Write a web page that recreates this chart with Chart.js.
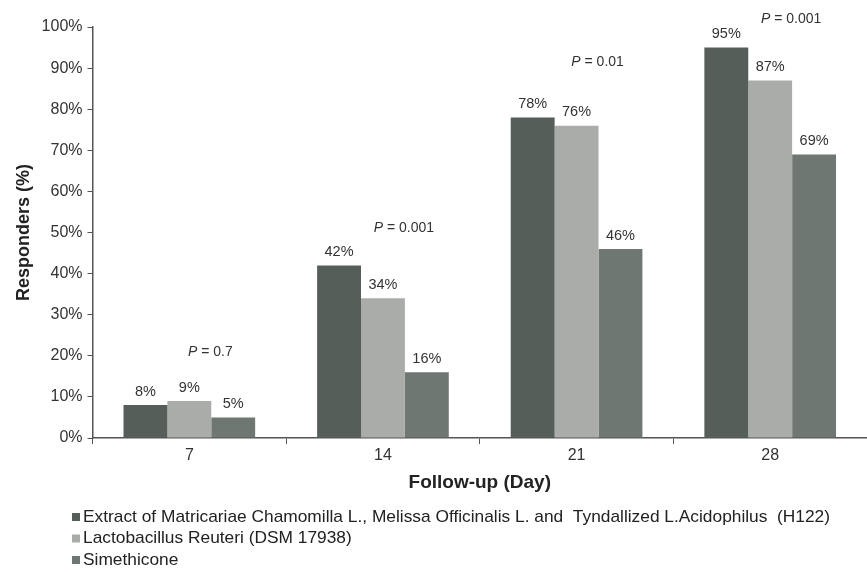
<!DOCTYPE html>
<html>
<head>
<meta charset="utf-8">
<script src="https://cdn.jsdelivr.net/npm/chart.js@4/dist/chart.umd.min.js"></script>
<style>
  html, body { margin: 0; padding: 0; background: #fff; }
  #wrap { width: 867px; height: 576px; position: relative; }
</style>
</head>
<body>
<div id="wrap"><canvas id="myChart"></canvas></div>
<script>
const days = ['7', '14', '21', '28']
const seriesNames = [
  'Extract of Matricariae Chamomilla L., Melissa Officinalis L. and  Tyndallized L.Acidophilus  (H122)',
  'Lactobacillus Reuteri (DSM 17938)',
  'Simethicone',
]
const h122 = [8, 42, 78, 95]
const reuteri = [9, 34, 76, 87]
const simethicone = [5, 16, 46, 69]
const yTicks = [0, 10, 20, 30, 40, 50, 60, 70, 80, 90, 100]
// p-value per follow-up day and the level (in %) where its label sits
const pValues = ['0.7', '0.001', '0.01', '0.001']
const pLevels = [21, 51, 91.5, 102]

const colors = ['#565e5a', '#a9aca9', '#6f7773']
const font = 'Liberation Sans, Arial, sans-serif'

// value labels on top of each bar
const barLabels = {
  id: 'barLabels',
  afterDatasetsDraw(chart) {
    const { ctx } = chart
    ctx.save()
    ctx.font = '14.5px ' + font
    ctx.fillStyle = '#333'
    ctx.textAlign = 'center'
    ctx.textBaseline = 'bottom'
    chart.data.datasets.forEach((ds, i) => {
      chart.getDatasetMeta(i).data.forEach((bar, j) => {
        ctx.fillText(ds.data[j] + '%', bar.x, bar.y - 6)
      })
    })
    ctx.restore()
  },
}

// "P = ..." annotations above each group
const pLabels = {
  id: 'pLabels',
  afterDraw(chart) {
    const { ctx } = chart
    const xs = chart.scales.x
    const ys = chart.scales.y
    ctx.save()
    ctx.fillStyle = '#333'
    ctx.textBaseline = 'middle'
    pValues.forEach((p, i) => {
      const cx = xs.getPixelForValue(i) + 21
      const cy = ys.getPixelForValue(pLevels[i])
      ctx.font = 'italic 14px ' + font
      const wP = ctx.measureText('P').width
      ctx.font = '14px ' + font
      const rest = ' = ' + p
      const wR = ctx.measureText(rest).width
      const x0 = cx - (wP + wR) / 2
      ctx.font = 'italic 14px ' + font
      ctx.textAlign = 'left'
      ctx.fillText('P', x0, cy)
      ctx.font = '14px ' + font
      ctx.fillText(rest, x0 + wP, cy)
    })
    ctx.restore()
  },
}

// stacked legend below the axis title, text condensed to the original width
const stackLegend = {
  id: 'stackLegend',
  afterDraw(chart) {
    const { ctx } = chart
    ctx.save()
    ctx.font = '17px ' + font
    ctx.textBaseline = 'middle'
    ctx.textAlign = 'left'
    const sx = 747 / ctx.measureText(chart.data.datasets[0].label).width
    chart.data.datasets.forEach((ds, i) => {
      const y = 517 + i * 21.5
      ctx.fillStyle = ds.backgroundColor
      ctx.fillRect(72, y - 4, 8, 8)
      ctx.fillStyle = '#222'
      ctx.save()
      ctx.translate(83, y)
      ctx.scale(sx, 1)
      ctx.fillText(ds.label, 0, 0)
      ctx.restore()
    })
    ctx.restore()
  },
}

const ctx = document.getElementById('myChart').getContext('2d')
const data = {
  labels: days,
  datasets: [
    { label: seriesNames[0], data: h122, backgroundColor: colors[0] },
    { label: seriesNames[1], data: reuteri, backgroundColor: colors[1] },
    { label: seriesNames[2], data: simethicone, backgroundColor: colors[2] },
  ],
}
const myChart = new Chart(ctx, {
  type: 'bar',
  data,
  plugins: [barLabels, pLabels, stackLegend],
  options: {
    responsive: true,
    maintainAspectRatio: false,
    animation: false,
    layout: { padding: { top: 27, right: 0, left: 13, bottom: 78 } },
    datasets: { bar: { categoryPercentage: 0.68, barPercentage: 1 } },
    plugins: {
      legend: { display: false },
      tooltip: { enabled: false },
    },
    scales: {
      x: {
        grid: { drawOnChartArea: false, tickLength: 6, color: '#555' },
        border: { color: '#555', width: 1.5 },
        ticks: { color: '#333', font: { family: font, size: 16 }, padding: 2 },
        title: {
          display: true,
          text: 'Follow-up (Day)',
          color: '#222',
          font: { family: font, size: 19, weight: 'bold' },
          padding: { top: 4 },
        },
      },
      y: {
        min: 0,
        max: 100,
        afterBuildTicks: (axis) => { axis.ticks = yTicks.map((v) => ({ value: v })) },
        grid: { drawOnChartArea: false, tickLength: 5, color: '#555' },
        border: { color: '#555', width: 1.5 },
        ticks: {
          color: '#333',
          font: { family: font, size: 16 },
          padding: 5,
          callback: (v) => v + '%',
        },
        title: {
          display: true,
          text: 'Responders (%)',
          color: '#222',
          font: { family: font, size: 18, weight: 'bold' },
          padding: { top: 0, bottom: 2 },
        },
      },
    },
  },
})
</script>
</body>
</html>
